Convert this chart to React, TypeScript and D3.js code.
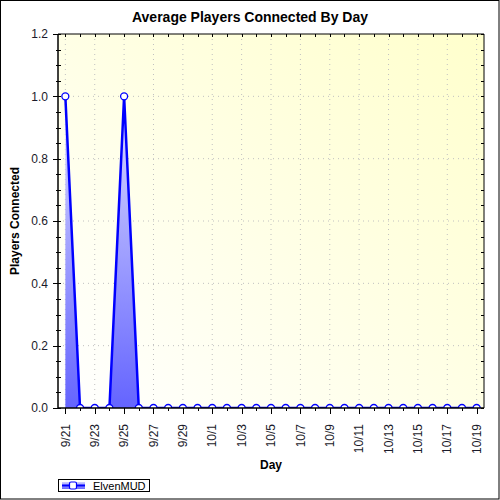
import React from "react";
import * as d3 from "d3";

const days: string[] = [
  "9/21", "9/22", "9/23", "9/24", "9/25", "9/26", "9/27", "9/28", "9/29", "9/30",
  "10/1", "10/2", "10/3", "10/4", "10/5", "10/6", "10/7", "10/8", "10/9", "10/10",
  "10/11", "10/12", "10/13", "10/14", "10/15", "10/16", "10/17", "10/18", "10/19",
];
const players: number[] = [
  1, 0, 0, 0, 1, 0, 0, 0, 0, 0,
  0, 0, 0, 0, 0, 0, 0, 0, 0, 0,
  0, 0, 0, 0, 0, 0, 0, 0, 0,
];
const yTicks: number[] = [0, 0.2, 0.4, 0.6, 0.8, 1.0, 1.2];
const seriesName = "ElvenMUD";
const title = "Average Players Connected By Day";
const xTitle = "Day";
const yTitle = "Players Connected";

const W = 500;
const H = 500;
const L = 58;
const R = 484;
const T = 34;
const B = 408;

export default function App() {
  const x = d3.scaleLinear().domain([-0.5, days.length - 0.5]).range([L, R]);
  const y = d3.scaleLinear().domain([0, 1.2]).range([B, T]);
  const data = players.map((v, i) => ({ i, v }));
  const area = d3
    .area<{ i: number; v: number }>()
    .x((d) => x(d.i))
    .y0(y(0))
    .y1((d) => y(d.v));
  const line = d3
    .line<{ i: number; v: number }>()
    .x((d) => x(d.i))
    .y((d) => y(d.v));
  const minorY = d3.range(0, 1.2001, 0.05);
  const font = "'Liberation Sans', Arial, sans-serif";

  return (
    <svg
      width={W}
      height={H}
      style={{ position: "absolute", left: 0, top: 0 }}
      fontFamily={font}
    >
      <defs>
        <linearGradient id="bg" x1="0" y1="1" x2="1" y2="0">
          <stop offset="0" stopColor="#ffffff" />
          <stop offset="1" stopColor="#ffffcc" />
        </linearGradient>
        <linearGradient id="af" gradientUnits="userSpaceOnUse" x1="0" y1={y(1)} x2="0" y2={y(0)}>
          <stop offset="0" stopColor="#dcdcff" />
          <stop offset="1" stopColor="#6464ff" />
        </linearGradient>
        <linearGradient id="lf" x1="0" y1="0" x2="0" y2="1">
          <stop offset="0" stopColor="#d0d0ff" />
          <stop offset="1" stopColor="#6868ff" />
        </linearGradient>
        <clipPath id="plotclip">
          <rect x={L} y={T - 6} width={R - L} height={B - T + 6} />
        </clipPath>
      </defs>
      <rect x={0} y={0} width={W} height={H} fill="#ffffff" />
      <rect x={0.5} y={0.5} width={W - 1.5} height={H - 1.5} fill="none" stroke="#000" strokeWidth={1} />

      {/* plot background */}
      <rect x={L} y={T} width={R - L} height={B - T} fill="url(#bg)" />

      {/* grid */}
      {yTicks.slice(1, -1).map((t) => (
        <line key={"gy" + t} x1={L} x2={R} y1={y(t)} y2={y(t)} stroke="#c0c0c0" strokeDasharray="1,4" />
      ))}
      {days.map((d, i) =>
        i % 2 === 0 ? (
          <line key={"gx" + d} x1={x(i)} x2={x(i)} y1={T} y2={B} stroke="#c0c0c0" strokeDasharray="1,4" />
        ) : null
      )}

      {/* area & line */}
      <g clipPath="url(#plotclip)">
        <path d={area(data) ?? ""} fill="url(#af)" />
        <path d={line(data) ?? ""} fill="none" stroke="#0000ff" strokeWidth={2.5} />
        {data.map((d) => (
          <circle key={"m" + d.i} cx={x(d.i)} cy={y(d.v)} r={3.5} fill="#ffffff" stroke="#0000ff" strokeWidth={1.3} />
        ))}
      </g>

      {/* frame */}
      <line x1={L} x2={R} y1={T} y2={T} stroke="#000" />
      <line x1={R} x2={R} y1={T} y2={B} stroke="#000" />
      <line x1={L} x2={L} y1={T} y2={B + 1} stroke="#000" strokeWidth={1.5} />
      <line x1={L} x2={R} y1={B} y2={B} stroke="#000" strokeWidth={1.5} />

      {/* y ticks */}
      {minorY.map((t, k) => {
        const major = k % 4 === 0;
        const yy = Math.round(y(t)) + 0.5;
        return (
          <g key={"yt" + k}>
            <line x1={major ? L - 5 : L - 2} x2={L + 3} y1={yy} y2={yy} stroke="#000" />
            <line x1={R - 3} x2={R} y1={yy} y2={yy} stroke="#000" />
          </g>
        );
      })}
      {yTicks.map((t) => (
        <text key={"yl" + t} x={48} y={y(t)} dy="0.35em" textAnchor="end" fontSize={12} fill="#1a1a2a">
          {t.toFixed(1)}
        </text>
      ))}

      {/* x ticks */}
      {days.map((d, i) => {
        const major = i % 2 === 0;
        const xx = Math.round(x(i)) + 0.5;
        return (
          <g key={"xt" + d}>
            <line x1={xx} x2={xx} y1={B} y2={B + (major ? 6 : 3)} stroke="#000" />
            <line x1={xx} x2={xx} y1={T} y2={T + 3} stroke="#000" />
          </g>
        );
      })}
      {days.map((d, i) =>
        i % 2 === 0 ? (
          <text
            key={"xl" + d}
            transform={`translate(${x(i)},${424}) rotate(-90)`}
            dy="0.35em"
            textAnchor="end"
            fontSize={12}
            fill="#1a1a2a"
          >
            {d}
          </text>
        ) : null
      )}

      {/* titles */}
      <text x={250} y={22} textAnchor="middle" fontSize={14} fontWeight="bold" fill="#000">
        {title}
      </text>
      <text x={(L + R) / 2} y={469} textAnchor="middle" fontSize={12} fontWeight="bold" fill="#000">
        {xTitle}
      </text>
      <text
        transform={`translate(19,${(T + B) / 2}) rotate(-90)`}
        textAnchor="middle"
        fontSize={12}
        fontWeight="bold"
        fill="#000"
      >
        {yTitle}
      </text>

      {/* legend */}
      <rect x={58.5} y={479.5} width={91} height={12} fill="#ffffff" stroke="#000" />
      <rect x={62} y={482} width={23} height={7} fill="url(#lf)" />
      <line x1={62} x2={85} y1={485.5} y2={485.5} stroke="#0000ff" strokeWidth={2} />
      <rect x={69.5} y={482} width={7} height={7} rx={1.5} fill="#ffffff" stroke="#0000ff" strokeWidth={1.2} />
      <text x={93} y={489.5} fontSize={11} fill="#000">
        {seriesName}
      </text>
    </svg>
  );
}
